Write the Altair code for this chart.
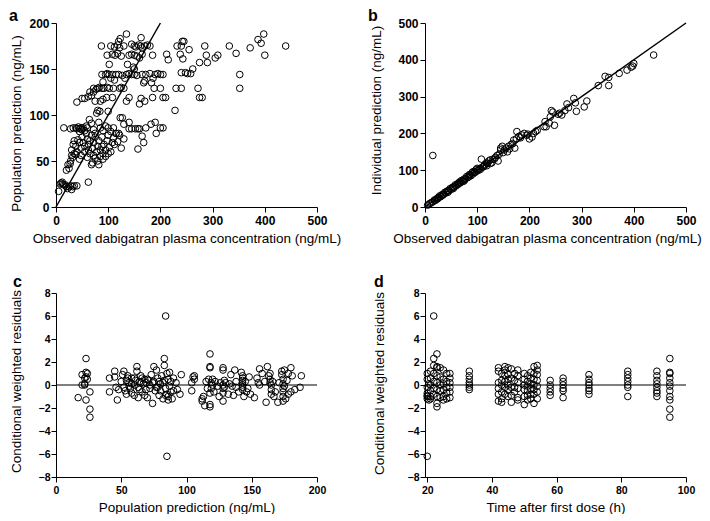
import altair as alt
import pandas as pd

# ---------------- data ----------------
# Panel a: observed concentration vs population prediction
A_POINTS = [
    # band ~175-188
    (87, 175), (105, 175), (112, 174), (118, 176), (122, 173), (130, 175), (145, 177), (150, 175),
    (153, 174), (158, 176), (162, 175), (165, 173), (170, 175), (175, 176), (180, 175), (232, 175),
    (240, 175), (285, 175), (332, 175), (372, 173), (440, 175), (120, 180), (123, 183), (135, 188),
    (163, 184), (245, 180), (242, 180), (398, 188), (387, 182), (393, 178),
    # band ~165
    (98, 165), (108, 166), (113, 165), (118, 167), (125, 164), (140, 165), (145, 166), (150, 165),
    (155, 164), (165, 166), (185, 165), (212, 166), (238, 166), (255, 171), (288, 165), (305, 162),
    (310, 165), (345, 167), (400, 165), (160, 162), (243, 161), (215, 160),
    # band ~150-158
    (275, 157), (290, 157), (137, 155), (148, 152), (102, 155), (262, 150), (150, 150),
    # band ~144
    (88, 144), (95, 144), (98, 145), (102, 144), (108, 144), (115, 144), (120, 144), (127, 143),
    (135, 144), (140, 145), (145, 144), (150, 144), (155, 143), (165, 144), (172, 144), (180, 145),
    (190, 144), (195, 145), (200, 144), (205, 144), (248, 146), (252, 145), (258, 145), (352, 144),
    (240, 146),
    # band ~135-140
    (105, 140), (112, 138), (132, 140), (168, 135), (183, 135), (186, 140), (170, 137), (90, 136),
    # band ~129
    (72, 129), (77, 128), (80, 129), (83, 130), (88, 129), (92, 129), (98, 130), (102, 129),
    (110, 129), (122, 129), (125, 130), (130, 129), (188, 129), (200, 129), (230, 129), (240, 129),
    (272, 129), (352, 129),
    # band ~112-125
    (50, 118), (55, 118), (62, 120), (65, 125), (68, 121), (72, 125), (75, 115), (85, 115),
    (90, 117), (97, 119), (108, 119), (135, 115), (140, 119), (160, 112), (163, 118), (170, 115),
    (185, 119), (205, 119), (210, 119), (275, 119), (280, 119), (40, 114),
    # band ~100-110
    (84, 104), (100, 104), (228, 105), (78, 102), (80, 105),
    # band ~80-97
    (15, 86), (28, 85), (33, 86), (38, 86), (40, 85), (43, 87), (46, 85), (48, 86), (50, 84),
    (52, 86), (55, 83), (60, 86), (64, 95), (68, 91), (72, 84), (75, 80), (82, 92), (85, 86),
    (90, 83), (95, 88), (100, 86), (105, 82), (110, 86), (115, 80), (120, 80), (123, 97),
    (127, 97), (130, 90), (140, 85), (145, 85), (152, 85), (157, 85), (160, 85), (172, 86),
    (182, 90), (190, 92), (192, 80), (200, 86), (205, 86), (140, 92), (58, 88), (45, 82),
    # band ~45-80
    (30, 62), (33, 68), (35, 72), (38, 66), (42, 73), (45, 70), (48, 64), (50, 76), (52, 70),
    (55, 66), (58, 80), (60, 74), (62, 68), (65, 72), (68, 78), (70, 64), (72, 70), (75, 76),
    (78, 60), (80, 66), (82, 72), (85, 62), (88, 76), (90, 58), (92, 68), (95, 62), (98, 72),
    (100, 78), (102, 65), (105, 60), (108, 70), (110, 75), (112, 68), (115, 80), (118, 71),
    (122, 78), (125, 64), (130, 74), (165, 77), (168, 70), (157, 63), (72, 56), (75, 53),
    (80, 50), (85, 55), (90, 52), (65, 58), (60, 54), (55, 60), (48, 56), (45, 52), (95, 55),
    (70, 48), (82, 46), (68, 46), (40, 60), (100, 58), (38, 57), (62, 62), (88, 66),
    # band ~40-58
    (20, 40), (23, 46), (25, 42), (28, 50), (30, 56), (35, 58), (27, 47), (32, 54),
    # band ~17-30
    (5, 17), (8, 25), (10, 26), (12, 27), (15, 24), (18, 24), (20, 22), (22, 20), (25, 22),
    (28, 23), (30, 19), (32, 22), (35, 23), (40, 23), (62, 27), (13, 25),
]

# Panel b: observed concentration vs individual prediction
B_POINTS = [
    (15, 140), (438, 413), (400, 390), (398, 383), (395, 380), (387, 372), (372, 363), (352, 352),
    (352, 330), (345, 355), (332, 330), (310, 288), (305, 272), (290, 260), (288, 283), (285, 295),
    (275, 270), (272, 280), (268, 262), (262, 250), (258, 255), (255, 252), (248, 222), (245, 258),
    (242, 262), (240, 245), (238, 228), (232, 218), (230, 232), (228, 218), (215, 208), (212, 205),
    (208, 200), (205, 190), (200, 185), (197, 198), (195, 195), (190, 200), (185, 196), (183, 188),
    (180, 192), (176, 205), (175, 185), (172, 160), (170, 182), (168, 172), (165, 170), (162, 158),
    (160, 165), (158, 150), (155, 160), (152, 155), (150, 148), (148, 165), (145, 155), (142, 143),
    (140, 125), (138, 140), (135, 135), (133, 130), (130, 130), (128, 120), (125, 128), (122, 125),
    (120, 118), (118, 120), (115, 115), (113, 112), (112, 110), (110, 108), (108, 130), (106, 102),
    (105, 105), (102, 100), (100, 98), (98, 102), (96, 94), (95, 95), (92, 90), (90, 93), (88, 85),
    (86, 87), (85, 88), (82, 80), (80, 83), (78, 78), (76, 73), (75, 76), (72, 70), (70, 72),
    (68, 66), (66, 68), (65, 65), (62, 63), (60, 58), (58, 60), (56, 54), (55, 55), (52, 53),
    (50, 48), (48, 50), (46, 44), (45, 45), (42, 43), (40, 38), (38, 40), (36, 35), (35, 35),
    (32, 33), (30, 28), (28, 30), (26, 25), (25, 25), (22, 22), (20, 18), (18, 19), (15, 14),
    (12, 12), (10, 10), (8, 8), (5, 5), (145, 160), (125, 118), (118, 112), (100, 105),
    (92, 96), (84, 82), (74, 70), (64, 62), (54, 50), (44, 40), (34, 32), (24, 22),
]

# Panel c: population prediction vs CWRES
C_POINTS = [
    (17, -1.1), (20, 0.9), (20, 0.0), (22, 0.1), (22, 0.0), (22, 0.6), (23, 2.3), (23, 1.1),
    (23, -1.3), (23, 0.7), (24, 1.0), (24, 0.5), (26, -0.6), (26, -2.1), (26, -2.8),
    (41, 0.6), (41, -0.6), (45, 1.2), (45, 0.7), (46, -0.2), (47, -1.3), (48, -0.4), (50, 0.3),
    (51, 0.9), (52, 1.2), (53, -0.5), (54, -0.8), (55, 0.8), (55, 0.6), (56, 0.2), (57, -0.3),
    (58, 0.6), (58, -0.7), (60, 0.0), (60, -0.9), (61, 0.4), (62, 1.6), (62, 1.2), (63, -0.2),
    (63, -1.1), (64, 0.3), (65, 0.8), (66, -0.6), (67, 0.1), (68, 0.5), (68, -0.9), (69, 0.2),
    (70, -1.1), (71, 0.4), (72, -0.3), (73, 0.9), (74, -1.6), (75, 1.6), (75, 0.3), (76, -0.5),
    (77, 1.3), (77, -0.2), (78, 0.6), (79, -0.9), (80, 0.1), (80, -0.5), (81, 0.8), (82, -1.2),
    (83, 2.3), (83, 1.7), (83, 0.4), (84, 6.0), (84, -0.3), (85, 1.0), (85, -0.8), (85, -6.2),
    (86, 0.5), (86, -1.3), (87, -0.1), (87, 1.1), (88, 0.3), (89, -1.2), (90, 0.6), (90, -0.5),
    (92, 0.2), (93, -0.4), (95, -0.8), (96, 0.9), (54, 0.4), (56, -0.1), (64, -0.4), (66, 0.6),
    (70, 0.5), (72, 0.0), (74, 0.2), (78, -0.2), (79, 0.3), (82, 0.2), (84, -0.9), (86, -1.0),
    (88, -0.6), (58, 0.1), (52, -0.2), (60, 0.6), (65, 0.2), (69, -0.4),
    (104, -0.5), (104, 0.2), (105, 0.7), (106, 0.5), (106, 0.8),
    (112, -1.2), (112, -1.4), (113, -1.0), (114, -1.8), (115, 0.3), (116, -0.3), (117, 0.5),
    (118, 2.7), (118, 1.6), (118, 1.5), (118, -0.7), (118, -1.7), (118, -1.9), (119, 0.2),
    (119, -0.3), (120, 0.0), (120, 0.5), (121, -0.6), (122, 0.3), (124, -0.1),
    (125, -1.0), (126, 0.2), (128, 1.5), (128, 1.3), (128, 0.0), (128, -0.3), (128, -0.7),
    (128, -1.4), (129, 0.4), (129, -0.2), (130, 0.2), (132, -0.8),
    (133, 0.1), (134, 0.9), (135, -0.1), (136, -0.9), (137, 1.3), (138, 0.3), (138, -0.2),
    (140, -0.6), (142, 1.1), (143, 0.8), (143, 0.6), (143, 0.4), (143, 0.2), (143, 0.0),
    (143, -0.2), (143, -0.4), (144, -1.0), (145, 0.3), (146, -0.6), (147, -0.3), (148, 0.7),
    (149, -0.8), (152, -1.1), (154, 0.6), (155, 0.2), (156, 1.4), (156, 0.0), (158, 1.0),
    (160, 0.3), (161, -1.5), (162, 1.6), (163, 0.8), (164, 1.0), (164, 0.5), (164, 0.2),
    (165, 0.0), (165, -0.4), (165, -0.8), (166, 0.3), (167, -1.0), (168, -0.6),
    (170, -1.5), (171, 0.2), (173, 1.2), (173, 0.9), (174, 0.5), (174, 0.1), (174, -0.3),
    (174, -0.6), (174, -1.0), (174, -1.4), (175, 1.3), (175, -0.1), (176, -1.2), (177, 0.4),
    (178, -0.8), (180, 1.5), (180, -0.6), (181, 0.8), (183, -0.4), (187, -0.2), (188, 0.8),
    (178, 1.0),
]

# Panel d: time after first dose vs CWRES
D_TIMES = [20, 20.5, 21, 22, 23, 24, 25, 26, 27, 33, 42, 43, 44, 45, 46, 47, 48,
           50, 51, 52, 53, 54, 58, 62, 70, 82, 91, 95]
D_RESIDUALS = [
    [-6.2, 1.0, 0.5, -0.2, -0.7, -1.0, -1.2, -0.9],
    [-1.3, 0.1],
    [1.2, 0.6, 0.0, -0.5, -1.0, -1.2],
    [6.0, 2.3, 1.7, 1.0, 0.3, -0.3, -0.8],
    [2.7, 1.6, 1.5, 0.8, 0.2, -0.4, -1.0, -1.6, -1.9],
    [1.5, 0.7, 0.0, -0.5, -1.1],
    [1.3, 0.5, 0.1, -0.4, -1.0, -1.3],
    [1.0, 0.3, -0.2, -0.7, -1.2],
    [1.0, 0.6, 0.2, -0.2, -0.6, -1.1],
    [1.2, 0.8, 0.5, 0.2, 0.0, -0.2, -0.4],
    [1.5, 1.2, 0.2, -0.3, -0.8, -1.4],
    [1.0, 0.4, 0.0, -0.6, -1.2, -1.5],
    [1.6, 1.3, 0.8, 0.3, -0.2, -0.8],
    [1.5, 0.9, 0.5, 0.0, -0.4, -1.0],
    [1.4, 0.6, -0.2, -0.9, -1.5],
    [1.0, 0.4, -0.2, -0.6],
    [1.3, 0.8, 0.2, -0.3, -1.1, -1.3],
    [1.0, 0.5, 0.0, -0.4, -1.0, -1.7],
    [0.8, 0.3, -0.1, -0.5, -0.9, -1.3],
    [1.1, 0.6, 0.1, -0.3, -0.8, -1.2],
    [1.6, 1.0, 0.5, 0.0, -0.4, -0.8, -1.6],
    [1.7, 1.3, 0.9, 0.4, -0.1, -0.6, -1.2],
    [0.4, 0.0, -0.3, -0.6, -0.9],
    [0.6, 0.3, 0.0, -0.3, -0.5, -1.1],
    [0.9, 0.5, 0.2, 0.0, -0.3, -0.5, -0.8],
    [1.2, 0.9, 0.6, 0.3, 0.0, -0.2, -1.0],
    [1.2, 0.8, 0.4, 0.1, -0.2, -0.5, -0.7, -1.0],
    [2.3, 1.1, 1.0, 0.6, 0.2, -0.1, -0.5, -1.0, -1.3, -2.1, -2.8],
]

# reference lines
A_LINE = [(0, 0), (200, 200)]
B_LINE = [(0, 0), (500, 500)]
C_LINE = [(0, 0), (200, 0)]
D_LINE = [(19.3, 0), (100, 0)]

# axis settings
A_X = dict(domain=[0, 500], ticks=[0, 100, 200, 300, 400, 500])
A_Y = dict(domain=[0, 200], ticks=[0, 50, 100, 150, 200])
B_X = dict(domain=[0, 500], ticks=[0, 100, 200, 300, 400, 500])
B_Y = dict(domain=[0, 500], ticks=[0, 100, 200, 300, 400, 500])
C_X = dict(domain=[0, 200], ticks=[0, 50, 100, 150, 200])
RES_Y = dict(domain=[-8, 8], ticks=[-8, -6, -4, -2, 0, 2, 4, 6, 8])
D_X = dict(domain=[19.3, 100], ticks=[20, 40, 60, 80, 100])

OBS_TITLE = "Observed dabigatran plasma concentration (ng/mL)"

W, H = 261, 184
FONT = "Liberation Sans"
TITLE_SIZE = 13.5


def panel(points, line, xs, ys, xtitle, ytitle, letter, letter_xy, ytx, yty,
          label_size, label_pad, xtitle_pad, xtitle_x=None, line_w=1.5):
    pts = pd.DataFrame(points, columns=["x", "y"])
    ln = pd.DataFrame(line, columns=["x", "y"])
    xscale = alt.Scale(domain=xs["domain"], nice=False, zero=False)
    yscale = alt.Scale(domain=ys["domain"], nice=False, zero=False)
    common = dict(
        grid=False, domainColor="black", domainWidth=1, tickColor="black", tickSize=5,
        tickWidth=1, labelColor="black", labelFont=FONT, labelFontSize=label_size,
        labelFontWeight="bold", labelOverlap=False, labelFlush=False, titleColor="black",
        titleFont=FONT, titleFontSize=TITLE_SIZE, titleFontWeight="normal",
    )
    xkw = dict(values=xs["ticks"], tickCount=len(xs["ticks"]), title=xtitle,
               titlePadding=xtitle_pad, labelPadding=3, **common)
    if xtitle_x is not None:
        xkw["titleX"] = xtitle_x
    xaxis = alt.Axis(**xkw)
    yaxis = alt.Axis(values=ys["ticks"], tickCount=len(ys["ticks"]), title=ytitle,
                     titleX=ytx, titleY=yty, titleBaseline="bottom", titleAngle=270,
                     labelPadding=label_pad, **common)
    scatter = alt.Chart(pts).mark_point(
        shape="circle", filled=False, color="black", size=44, strokeWidth=1, opacity=1
    ).encode(
        x=alt.X("x:Q", scale=xscale, axis=xaxis),
        y=alt.Y("y:Q", scale=yscale, axis=yaxis),
    )
    ref = alt.Chart(ln).mark_line(color="black", strokeWidth=line_w).encode(
        x="x:Q", y="y:Q"
    )
    lab = alt.Chart(pd.DataFrame({"t": [letter]})).mark_text(
        font=FONT, fontSize=16, fontWeight="bold", align="left", baseline="alphabetic",
        color="black"
    ).encode(text="t:N", x=alt.value(letter_xy[0]), y=alt.value(letter_xy[1]))
    return alt.layer(scatter, ref, lab).properties(width=W, height=H)


d_points = [(t, r) for t, rs in zip(D_TIMES, D_RESIDUALS) for r in rs]

pa = panel(A_POINTS, A_LINE, A_X, A_Y, OBS_TITLE, "Population prediction (ng/mL)", "a",
           (-47, -2), -33, 100, 12, 2, 5)
pb = panel(B_POINTS, B_LINE, B_X, B_Y, OBS_TITLE, "Individual prediction (ng/mL)", "b",
           (-57, -2), -42, 87, 12, 2, 5, xtitle_x=122)
pc = panel(C_POINTS, C_LINE, C_X, RES_Y, "Population prediction (ng/mL)",
           "Conditional weighted residuals", "c", (-43, -6), -33, 88, 10.5, 1, 5, line_w=1.2)
pd_ = panel(d_points, D_LINE, D_X, RES_Y, "Time after first dose (h)",
            "Conditional weighted residuals", "d", (-51, -6), -39, 90, 10.5, 1, 5, line_w=1.2)

chart = alt.concat(
    pa, pb, pc, pd_, columns=2, spacing={"row": 86, "column": 108}, bounds="flush"
).properties(padding=0).configure_view(stroke=None)

chart.save("out.html", embed_options={"renderer": "svg", "actions": False})
